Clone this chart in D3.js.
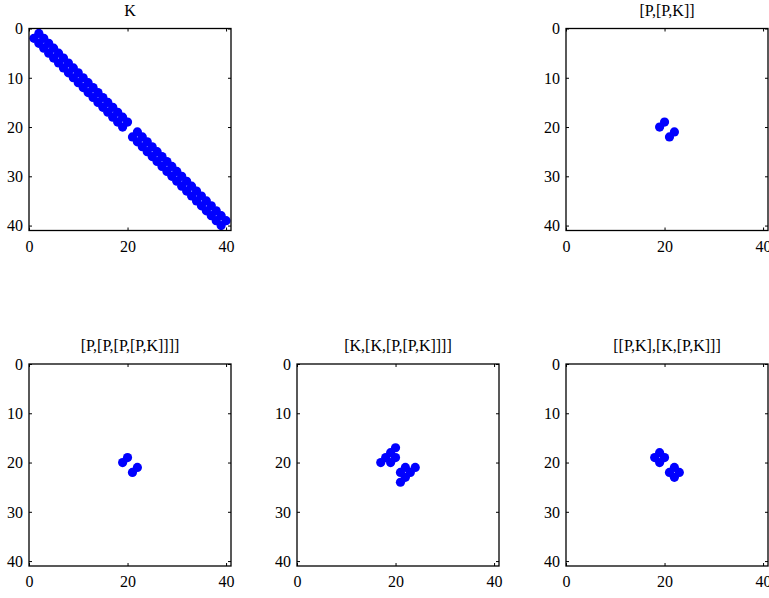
<!DOCTYPE html>
<html>
<head>
<meta charset="utf-8">
<script src="https://cdn.jsdelivr.net/npm/d3@7"></script>
<style>
  html, body { margin: 0; padding: 0; background: #fff; }
  svg { display: block; }
  text { font-family: "Liberation Serif", "Times New Roman", serif; fill: #000; }
</style>
</head>
<body>
<svg id="fig" width="769" height="598"></svg>
<script>
// Sparsity patterns: each entry is [row, column] of a nonzero element (1-based)
const kNonzeros = [
  [1,2],[2,1],[2,3],[3,2],[3,4],[4,3],[4,5],[5,4],[5,6],[6,5],[6,7],[7,6],[7,8],[8,7],
  [8,9],[9,8],[9,10],[10,9],[10,11],[11,10],[11,12],[12,11],[12,13],[13,12],[13,14],[14,13],
  [14,15],[15,14],[15,16],[16,15],[16,17],[17,16],[17,18],[18,17],[18,19],[19,18],[19,20],[20,19],
  [21,22],[22,21],[22,23],[23,22],[23,24],[24,23],[24,25],[25,24],[25,26],[26,25],[26,27],[27,26],
  [27,28],[28,27],[28,29],[29,28],[29,30],[30,29],[30,31],[31,30],[31,32],[32,31],[32,33],[33,32],
  [33,34],[34,33],[34,35],[35,34],[35,36],[36,35],[36,37],[37,36],[37,38],[38,37],[38,39],[39,38],
  [39,40],[40,39]
];
const ppkNonzeros = [[19,20],[20,19],[21,22],[22,21]];
const ppppkNonzeros = [[19,20],[20,19],[21,22],[22,21]];
const kkppkNonzeros = [
  [17,20],[20,17],[18,19],[19,18],[19,20],[20,19],
  [21,22],[22,21],[21,24],[24,21],[22,23],[23,22]
];
const pkkpkNonzeros = [
  [18,19],[19,18],[19,20],[20,19],
  [21,22],[22,21],[22,23],[23,22]
];

const titles = ["K", "[P,[P,K]]", "[P,[P,[P,[P,K]]]]", "[K,[K,[P,[P,K]]]]", "[[P,K],[K,[P,K]]]"];
const matrixSize = 40;
const xTicks = [0, 20, 40];
const yTicks = [0, 10, 20, 30, 40];

// Subplot placement (grid column, grid row) for each pattern
const panels = [
  { title: titles[0], data: kNonzeros,     col: 0, row: 0 },
  { title: titles[1], data: ppkNonzeros,   col: 2, row: 0 },
  { title: titles[2], data: ppppkNonzeros, col: 0, row: 1 },
  { title: titles[3], data: kkppkNonzeros, col: 1, row: 1 },
  { title: titles[4], data: pkkpkNonzeros, col: 2, row: 1 }
];

const colLeft = [29, 297, 566];
const rowTop = [28.5, 364];
const size = 202;
const markerR = 4.6;
const fontSize = 16;
const serif = '"Liberation Serif", "Times New Roman", serif';

const svg = d3.select("#fig");
svg.append("rect").attr("width", 769).attr("height", 598).attr("fill", "#fff");

panels.forEach(p => {
  const g = svg.append("g")
    .attr("transform", `translate(${colLeft[p.col]},${rowTop[p.row]})`);

  const x = d3.scaleLinear().domain([0, matrixSize + 1]).range([0, size]);
  const y = d3.scaleLinear().domain([0, matrixSize + 1]).range([0, size]);

  // markers
  g.append("g").selectAll("circle")
    .data(p.data)
    .join("circle")
    .attr("cx", d => x(d[1]))
    .attr("cy", d => y(d[0]))
    .attr("r", markerR)
    .attr("fill", "#0000ff");

  // axes with inward ticks on all four sides
  const styleAxis = sel => {
    sel.attr("font-family", serif).attr("font-size", fontSize);
    sel.select(".domain").remove();
    sel.selectAll(".tick line").attr("stroke", "#000").attr("stroke-width", 1);
    sel.selectAll(".tick text")
      .attr("font-family", serif)
      .style("font-family", serif)
      .style("font-size", fontSize + "px")
      .attr("fill", "#000");
  };

  g.append("g")
    .attr("transform", `translate(0,${size})`)
    .call(d3.axisBottom(x).tickValues(xTicks).tickSize(-3).tickPadding(7).tickFormat(d3.format("d")))
    .call(styleAxis)
    .call(s => s.selectAll(".tick text").attr("y", 21).attr("dy", 0));

  g.append("g")
    .call(d3.axisLeft(y).tickValues(yTicks).tickSize(-3).tickPadding(6).tickFormat(d3.format("d")))
    .call(styleAxis)
    .call(s => s.selectAll(".tick text").attr("dy", "0.33em"));

  g.append("g")
    .call(d3.axisTop(x).tickValues(xTicks).tickSize(-3).tickFormat(""))
    .call(styleAxis);

  g.append("g")
    .attr("transform", `translate(${size},0)`)
    .call(d3.axisRight(y).tickValues(yTicks).tickSize(-3).tickFormat(""))
    .call(styleAxis);

  // box
  g.append("rect")
    .attr("x", 0).attr("y", 0)
    .attr("width", size).attr("height", size)
    .attr("fill", "none")
    .attr("stroke", "#000")
    .attr("stroke-width", 1.3);

  // title
  g.append("text")
    .attr("x", size / 2)
    .attr("y", -13)
    .attr("text-anchor", "middle")
    .style("font-family", serif)
    .style("font-size", fontSize + "px")
    .text(p.title);
});
</script>
</body>
</html>
